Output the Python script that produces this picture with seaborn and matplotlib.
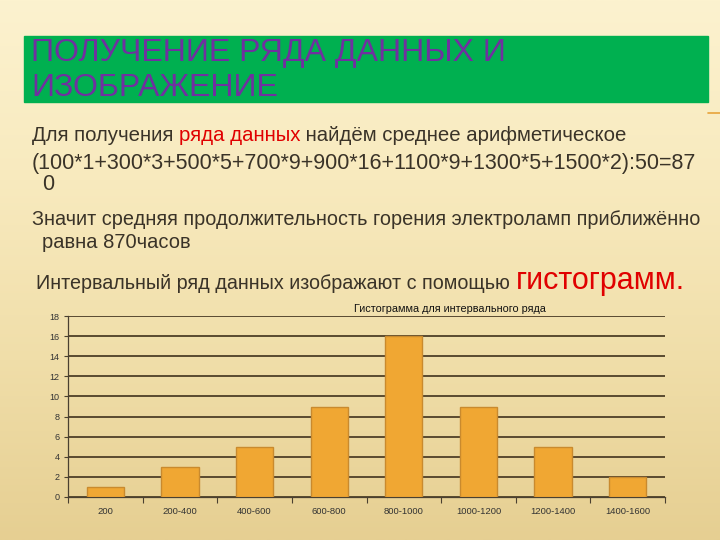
import numpy as np
import pandas as pd
import seaborn as sns
import matplotlib
matplotlib.use("Agg")
import matplotlib.pyplot as plt
from matplotlib.colors import LinearSegmentedColormap
from matplotlib.patches import Rectangle

# ---- data ----
categories = ["200", "200-400", "400-600", "600-800", "800-1000",
              "1000-1200", "1200-1400", "1400-1600"]
counts = [1, 3, 5, 9, 16, 9, 5, 2]
yticks = [0, 2, 4, 6, 8, 10, 12, 14, 16, 18]

title_lines = ["ПОЛУЧЕНИЕ РЯДА ДАННЫХ И", "ИЗОБРАЖЕНИЕ"]
chart_title = "Гистограмма для интервального ряда"

sns.set_theme(style="white")
plt.rcParams["font.family"] = ["Liberation Sans", "DejaVu Sans"]

W, H = 720, 540
fig = plt.figure(figsize=(7.2, 5.4), dpi=100)

def fx(px):
    return px / W

def fy(py):
    return 1 - py / H

# background gradient
bg = fig.add_axes([0, 0, 1, 1])
bg.axis("off")
grad = np.linspace(0, 1, 256)[:, None]
cmap = LinearSegmentedColormap.from_list("bg", ["#FCF2CF", "#F8EABE", "#F0DEA9", "#E6CF92"])
bg.imshow(grad, cmap=cmap, aspect="auto", extent=[0, 1, 0, 1])
bg.set_xlim(0, 1)
bg.set_ylim(0, 1)

# title box
fig.patches.append(Rectangle((fx(24), fy(102)), fx(684), 66 / H,
                             transform=fig.transFigure, color="#00B050", zorder=1))
fig.add_artist(plt.Line2D([fx(708), fx(720)], [fy(113), fy(113)],
                          transform=fig.transFigure, color="#E8A33A", lw=1.2))
title_font = ["Liberation Sans", "DejaVu Sans"]
fig.text(fx(31), fy(53), title_lines[0], va="center", ha="left", color="#7030A0",
         fontsize=23, family=title_font)
fig.text(fx(31), fy(88), title_lines[1], va="center", ha="left", color="#7030A0",
         fontsize=23, family=title_font)

# body text with colored segments
txt_color = "#3A3328"
body_font = ["Liberation Sans", "DejaVu Sans"]
fig.canvas.draw()
renderer = fig.canvas.get_renderer()

def seg_line(x0, y0, segments):
    x = x0
    for s, col, fs in segments:
        t = fig.text(fx(x), fy(y0), s, va="baseline", ha="left", color=col,
                     fontsize=fs, family=body_font)
        bb = t.get_window_extent(renderer=renderer)
        x += bb.width

seg_line(32, 141, [("Для получения ", txt_color, 14.7), ("ряда данных", "#E00000", 14.7),
                   (" найдём среднее арифметическое", txt_color, 14.7)])
seg_line(32, 169, [("(100*1+300*3+500*5+700*9+900*16+1100*9+1300*5+1500*2):50=87", txt_color, 15.5)])
seg_line(42, 190, [("0", txt_color, 15.5)])
seg_line(32, 225, [("Значит средняя продолжительность горения электроламп приближённо", txt_color, 14.3)])
seg_line(42, 248, [("равна 870часов", txt_color, 14.5)])
seg_line(36, 289, [("Интервальный ряд данных изображают с помощью ", txt_color, 14.2),
                   ("гистограмм.", "#E00000", 22)])

# chart
ax = fig.add_axes([fx(68), fy(497), fx(665) - fx(68), (497 - 316) / H])
ax.set_facecolor("none")
df = pd.DataFrame({"interval": categories, "count": counts})
sns.barplot(data=df, x="interval", y="count", color="#F0A733", saturation=1,
            width=0.5, edgecolor="#C98A2E", linewidth=1, ax=ax, zorder=3)
ax.set_ylim(0, 18)
ax.set_xlim(-0.5, len(categories) - 0.5)
ax.set_yticks(yticks)
ax.set_yticklabels([str(v) for v in yticks], fontsize=6.5, color="#333333")
ax.set_xticks(range(len(categories)))
ax.set_xticklabels(categories, fontsize=6.8, color="#333333")
ax.set_xticks(np.arange(-0.5, len(categories), 1), minor=True)
ax.tick_params(axis="x", which="major", length=0, pad=7)
ax.tick_params(axis="x", which="minor", length=4, width=0.8, color="#4a4030", direction="out", bottom=True)
ax.tick_params(axis="y", which="major", length=3, width=0.8, color="#4a4030", direction="out", left=True, pad=3)
ax.yaxis.grid(True, color="#4E3F27", linewidth=1.3)
ax.xaxis.grid(False)
ax.set_axisbelow(True)
for side in ["top", "right"]:
    ax.spines[side].set_visible(False)
for side in ["left", "bottom"]:
    ax.spines[side].set_color("#4a4030")
    ax.spines[side].set_linewidth(0.9)
ax.set_xlabel("")
ax.set_ylabel("")

fig.text(fx(450), fy(309), chart_title, ha="center", va="center", fontsize=7.8, color="#111111")

fig.savefig("out.png", dpi=100)
